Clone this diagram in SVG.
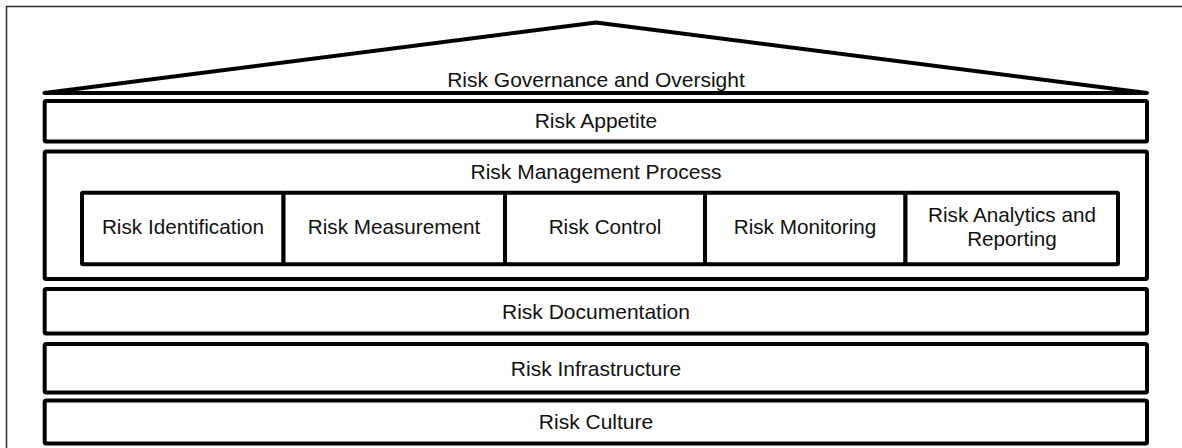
<svg xmlns="http://www.w3.org/2000/svg" width="1182" height="448" viewBox="0 0 1182 448">
<style>
.frame{fill:none;stroke:#2a2a2a;stroke-width:1.5}
.box{fill:#fff;stroke:#000;stroke-width:4;stroke-linejoin:round}
.roof{fill:none;stroke:#000;stroke-width:4;stroke-linejoin:round;stroke-linecap:round}
.lbl{font-family:"Liberation Sans",Arial,sans-serif;font-size:21px;fill:#111;text-anchor:middle}
.sm{font-size:20.7px}
</style>
<rect x="0" y="0" width="1182" height="448" fill="#fff"/>
<rect class="frame" x="6.5" y="6.5" width="1185" height="450"/>
<g id="governance">
<path class="roof" d="M44.5,93 L596,22.5 L1147,93 Z"/>
<text class="lbl" x="596" y="87">Risk Governance and Oversight</text>
</g>
<g id="appetite">
<rect class="box" x="44.7" y="101" width="1102.3" height="40.5" rx="1.5"/>
<text class="lbl" x="596" y="128">Risk Appetite</text>
</g>
<g id="process">
<rect class="box" x="44.7" y="151.5" width="1102.3" height="127.5" rx="1.5"/>
<text class="lbl" x="596" y="179">Risk Management Process</text>
</g>
<g id="identification">
<rect class="box" x="82" y="192.8" width="201.5" height="71.5" rx="1"/>
<text class="lbl sm" x="183" y="233.5">Risk Identification</text>
</g>
<g id="measurement">
<rect class="box" x="283.5" y="192.8" width="221.5" height="71.5" rx="1"/>
<text class="lbl sm" x="394" y="233.5">Risk Measurement</text>
</g>
<g id="control">
<rect class="box" x="505" y="192.8" width="200" height="71.5" rx="1"/>
<text class="lbl sm" x="605" y="233.5">Risk Control</text>
</g>
<g id="monitoring">
<rect class="box" x="705" y="192.8" width="200.5" height="71.5" rx="1"/>
<text class="lbl sm" x="805" y="233.5">Risk Monitoring</text>
</g>
<g id="analytics">
<rect class="box" x="905.5" y="192.8" width="212.5" height="71.5" rx="1"/>
<text class="lbl sm" x="1012" y="222">Risk Analytics and</text>
<text class="lbl sm" x="1012" y="245.5">Reporting</text>
</g>
<g id="documentation">
<rect class="box" x="44.7" y="289" width="1102.3" height="44.5" rx="1.5"/>
<text class="lbl" x="596" y="318.5">Risk Documentation</text>
</g>
<g id="infrastructure">
<rect class="box" x="44.7" y="344" width="1102.3" height="48.5" rx="1.5"/>
<text class="lbl" x="596" y="375.5">Risk Infrastructure</text>
</g>
<g id="culture">
<rect class="box" x="44.7" y="400.5" width="1102.3" height="43" rx="1.5"/>
<text class="lbl" x="596" y="429">Risk Culture</text>
</g>
<g id="connectors"></g>
</svg>
